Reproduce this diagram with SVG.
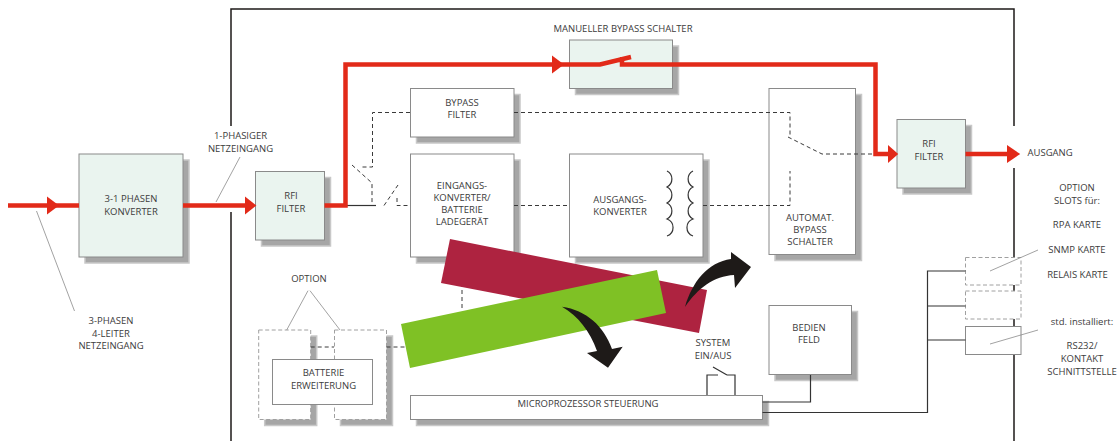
<svg xmlns="http://www.w3.org/2000/svg" width="1119" height="441" viewBox="0 0 1119 441">
<style>
text{font-family:"Open Sans","Noto Sans","DejaVu Sans",sans-serif;font-size:9.5px;fill:#3c3c3c;text-anchor:middle}
.s{fill:#a6a6a6;stroke:#c8c8c8;stroke-width:1.5}
.b{stroke:#8a8a8a;stroke-width:1}
.w{fill:#fff}
.g{fill:#eaf4ef}
.o{fill:#fff;stroke:#a0a0a0;stroke-width:1;stroke-dasharray:4 2.5}
.red{fill:none;stroke:#e22a19;stroke-width:4.5}
.rh{fill:#e22a19}
.da{fill:none;stroke:#3a3a3a;stroke-width:1;stroke-dasharray:4 3}
.so{fill:none;stroke:#333;stroke-width:1.2}
.le{fill:none;stroke:#8a8a8a;stroke-width:.8}
.fr{fill:none;stroke:#1e1a18;stroke-width:1.5}
.ar{fill:#1e1a18}
</style>
<defs>
<polygon id="ah" points="0,-9 12,0 0,9"/>
</defs>

<g id="frame">
<path class="fr" d="M231 126V9H1014V126M1014 168V441M231 212V441"/>
</g>

<g id="n-konverter"><rect class="s" x="85" y="160" width="104" height="103"/><rect class="b g" x="79" y="154" width="104" height="103"/><text x="131" y="202">3-1 PHASEN</text><text x="131" y="215">KONVERTER</text></g>
<g id="n-rfi1"><rect class="s" x="261.5" y="177.5" width="69" height="68.5"/><rect class="b g" x="255.5" y="171.5" width="69" height="68.5"/><text x="291" y="199">RFI</text><text x="291" y="211.5">FILTER</text></g>
<g id="n-bypassschalter"><rect class="s" x="575.5" y="46" width="103" height="48.5"/><rect class="b g" x="569.5" y="40" width="103" height="48.5"/></g>
<g id="n-bypassfilter"><rect class="s" x="416.5" y="94.5" width="103.5" height="48.5"/><rect class="b w" x="410.5" y="88.5" width="103.5" height="48.5"/><text x="462" y="105.5">BYPASS</text><text x="462" y="118">FILTER</text></g>
<g id="n-eingang"><rect class="s" x="416.5" y="160" width="103.5" height="103"/><rect class="b w" x="410.5" y="154" width="103.5" height="103"/><text x="462" y="188.5">EINGANGS-</text><text x="462" y="200.5">KONVERTER/</text><text x="462" y="213">BATTERIE</text><text x="462" y="225">LADEGERÄT</text></g>
<g id="n-ausgang"><rect class="s" x="575.5" y="160" width="133.5" height="103"/><rect class="b w" x="569.5" y="154" width="133.5" height="103"/><text x="620" y="202.5">AUSGANGS-</text><text x="620" y="214.5">KONVERTER</text>
<path class="so" d="M667 171A9 9 0 0 1 667 187A9 9 0 0 1 667 203A9 9 0 0 1 667 219A9 9 0 0 1 667 236M693 171A9 9 0 0 0 693 187A9 9 0 0 0 693 203A9 9 0 0 0 693 219A9 9 0 0 0 693 236"/></g>
<g id="n-autobypass"><rect class="s" x="775" y="94.5" width="86.5" height="166"/><rect class="b w" x="769" y="88.5" width="86.5" height="166"/><text x="810" y="220.5">AUTOMAT.</text><text x="810" y="233">BYPASS</text><text x="810" y="245">SCHALTER</text></g>
<g id="n-rfi2"><rect class="s" x="903" y="125.5" width="68.5" height="68.5"/><rect class="b g" x="897" y="119.5" width="68.5" height="68.5"/><text x="929" y="147">RFI</text><text x="929" y="159.5">FILTER</text></g>
<g id="n-opt1"><rect class="s" x="264.7" y="336" width="52" height="89.5"/><rect class="o" x="258.7" y="330" width="52" height="89.5"/></g>
<g id="n-opt2"><rect class="s" x="340.5" y="336" width="52" height="89.5"/><rect class="o" x="334.5" y="330" width="52" height="89.5"/></g>
<g id="n-batterie"><rect class="w" stroke="#8a8a8a" x="272.5" y="359.5" width="100" height="45"/><text x="323.5" y="375.5">BATTERIE</text><text x="323.5" y="388.5">ERWEITERUNG</text></g>
<g id="n-micro"><rect class="s" x="416.5" y="401.5" width="352" height="24"/><rect class="b w" x="410.5" y="395.5" width="352" height="24"/><text x="588" y="407">MICROPROZESSOR STEUERUNG</text></g>
<g id="n-bedien"><rect class="s" x="775" y="311.5" width="82.5" height="69"/><rect class="b w" x="769" y="305.5" width="82.5" height="69"/><text x="809" y="331">BEDIEN</text><text x="809" y="343">FELD</text></g>
<g id="n-slot1"><rect class="o" x="965.5" y="257.5" width="55.5" height="27.5"/></g>
<g id="n-slot2"><rect class="o" x="965.5" y="291" width="55.5" height="28"/></g>
<g id="n-slot3"><rect class="w" stroke="#8a8a8a" x="965.5" y="326.5" width="55.5" height="28"/></g>

<g id="connectors">
<path class="da" d="M514 112.5H790V137M410 112.5H372.5V167H362M352 165L372 183V205.5M384 205.5L398 185M397 198V205.5H410M514 205.5H569M703 205.5H790V171M788 137L822 154H875M462 283V310M310.7 347H334M386.5 347H405"/>
<path class="so" d="M345 205.5H376"/>
<path class="so" d="M810.5 375V402H762.5M762.5 412.5H927.5V271H965.5M927.5 306H965.5M927.5 340H965.5M707 395V375H718M735 395V375H727M713 367L727 375"/>
<path class="le" d="M240 157L216 202M36.5 211L74.5 311M308 290.7L286.7 330M310 290.7L340 330M990 271L1038 250M990 344L1038 330"/>
<path class="red" d="M8 205.5H79M183 205.5H250M324.5 205.5H345.5V64.5H600L631 57M622 57V64.5H875.5V154H890M965.5 154H1010"/>
<use href="#ah" class="rh" transform="translate(47 205.5)"/>
<use href="#ah" class="rh" transform="translate(245 205.5) scale(.95 1)"/>
<use href="#ah" class="rh" transform="translate(552 64.5)"/>
<use href="#ah" class="rh" transform="translate(888 154) scale(.85 1)"/>
<use href="#ah" class="rh" transform="translate(1007 154) scale(1.1 1)"/>
</g>

<polygon id="crimson" fill="#ae2340" points="450,239 707,290 699,333 441,283"/>
<polygon id="green" fill="#7fc125" points="401,324 657,270 666,313 410,368"/>
<path id="arrow1" class="ar" d="M685 307C692 282 708 262 731 259L731 252L751 267L735 288L734 275C714 276 698 288 685 307Z"/>
<path id="arrow2" class="ar" d="M562 306.7C586 310 604 326 612 349L622.7 346.7L608 367.7L587 353L597 351C590 331 578 316 562 306.7Z"/>

<g id="labels">
<text x="240.5" y="139">1-PHASIGER</text><text x="240.5" y="151.5">NETZEINGANG</text>
<text x="111" y="324">3-PHASEN</text><text x="111" y="336.5">4-LEITER</text><text x="111" y="349">NETZEINGANG</text>
<text x="309" y="282">OPTION</text>
<text x="623" y="32">MANUELLER BYPASS SCHALTER</text>
<text x="1027.5" y="156" style="text-anchor:start">AUSGANG</text>
<text x="1077" y="191">OPTION</text><text x="1077" y="204">SLOTS für:</text><text x="1077" y="228">RPA KARTE</text><text x="1077" y="253">SNMP KARTE</text><text x="1077.5" y="278">RELAIS KARTE</text>
<text x="1082" y="325">std. installiert:</text><text x="1082" y="349">RS232/</text><text x="1082" y="362">KONTAKT</text><text x="1082" y="374.5">SCHNITTSTELLE</text>
<text x="713" y="346">SYSTEM</text><text x="713" y="359">EIN/AUS</text>
</g>
</svg>
